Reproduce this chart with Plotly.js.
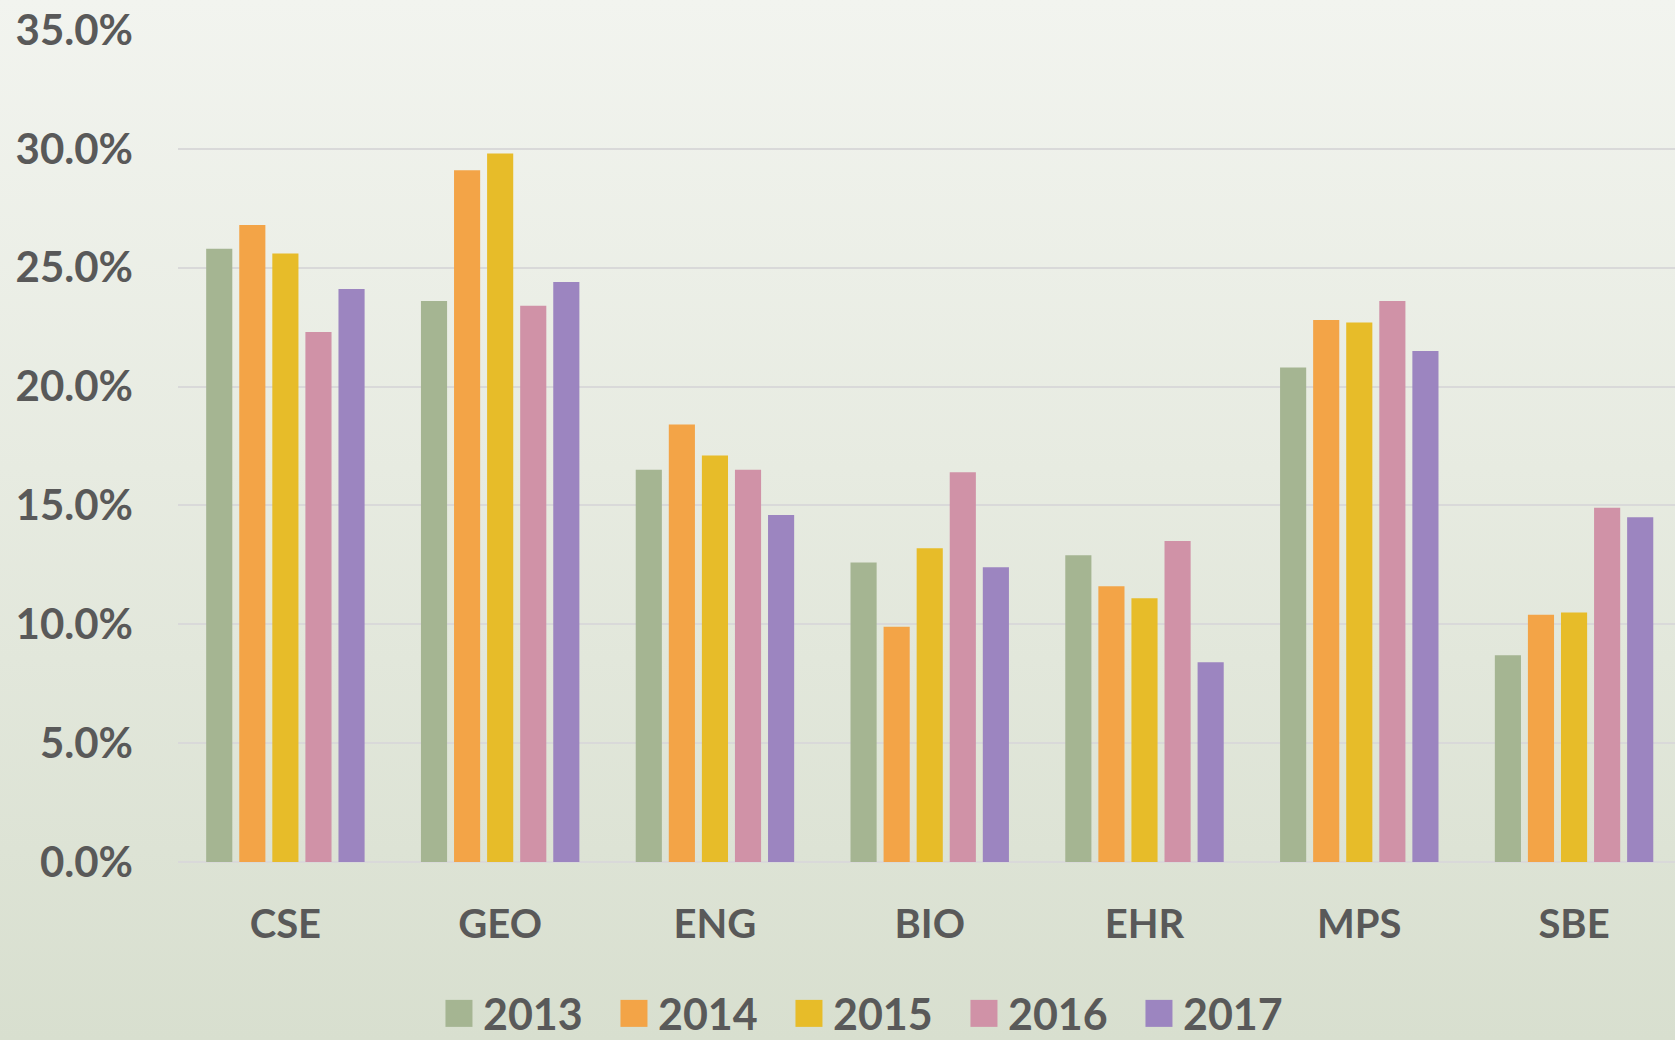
<!DOCTYPE html>
<html>
<head>
<meta charset="utf-8">
<script src="https://cdn.plot.ly/plotly-3.0.1.min.js"></script>
<style>
  html, body { margin: 0; padding: 0; }
  body { width: 1675px; height: 1040px; background: linear-gradient(to bottom, #f2f4ef 0%, #e7ebe1 45%, #d8dfcf 100%); }
  #chart { width: 1675px; height: 1040px; }
</style>
</head>
<body>
<div id="chart"></div>
<script>
const categories = ["CSE", "GEO", "ENG", "BIO", "EHR", "MPS", "SBE"];
const years = ["2013", "2014", "2015", "2016", "2017"];
const v2013 = [25.8, 23.6, 16.5, 12.6, 12.9, 20.8, 8.7];
const v2014 = [26.8, 29.1, 18.4, 9.9, 11.6, 22.8, 10.4];
const v2015 = [25.6, 29.8, 17.1, 13.2, 11.1, 22.7, 10.5];
const v2016 = [22.3, 23.4, 16.5, 16.4, 13.5, 23.6, 14.9];
const v2017 = [24.1, 24.4, 14.6, 12.4, 8.4, 21.5, 14.5];
const yTicks = [0, 5, 10, 15, 20, 25, 30, 35];
const colors = ["#a5b592", "#f3a447", "#e7bc29", "#d092a7", "#9c85c0"];

const series = [v2013, v2014, v2015, v2016, v2017];
const FONT = "Lato, 'Open Sans', sans-serif";
const TXT = "#595959";

const data = series.map((vals, i) => ({
  type: "bar",
  name: years[i],
  x: categories,
  y: vals,
  marker: { color: colors[i], line: { width: 0 } },
  hoverinfo: "x+y+name"
}));

const layout = {
  width: 1675,
  height: 1040,
  margin: { l: 178, r: 0, t: 30, b: 178, autoexpand: false },
  paper_bgcolor: "rgba(0,0,0,0)",
  plot_bgcolor: "rgba(0,0,0,0)",
  barmode: "group",
  bargap: 0.23,
  bargroupgap: 0.21,
  font: { family: FONT, color: TXT, size: 42, weight: "bold" },
  xaxis: {
    type: "category",
    range: [-0.5, 6.47],
    showgrid: false,
    showline: false,
    zeroline: false,
    ticks: "",
    ticklabelstandoff: 35,
    tickfont: { family: FONT, size: 40, color: TXT, weight: "bold" }
  },
  yaxis: {
    range: [0, 35],
    tickvals: yTicks,
    ticktext: yTicks.map(t => t.toFixed(1) + "%"),
    showgrid: true,
    gridcolor: "#d9d9d9",
    gridwidth: 2,
    zeroline: true,
    zerolinecolor: "#d9d9d9",
    zerolinewidth: 2,
    showline: false,
    ticks: "",
    ticklabelstandoff: 44,
    tickfont: { family: FONT, size: 42, color: TXT, weight: "bold" }
  },
  showlegend: true,
  legend: {
    orientation: "h",
    x: 0.177,
    xanchor: "left",
    y: -0.182,
    yanchor: "middle",
    entrywidth: 130,
    entrywidthmode: "pixels",
    bgcolor: "rgba(0,0,0,0)",
    font: { family: FONT, size: 43, color: TXT, weight: "bold" },
    traceorder: "normal"
  }
};

Plotly.newPlot("chart", data, layout, { displayModeBar: false, staticPlot: true }).then(gd => {
  gd.querySelectorAll(".legend .legendpoints path").forEach(p => {
    const t = p.getAttribute("transform") || "";
    p.setAttribute("transform", t + " translate(-4,0) scale(2.25)");
  });
});
</script>
</body>
</html>
